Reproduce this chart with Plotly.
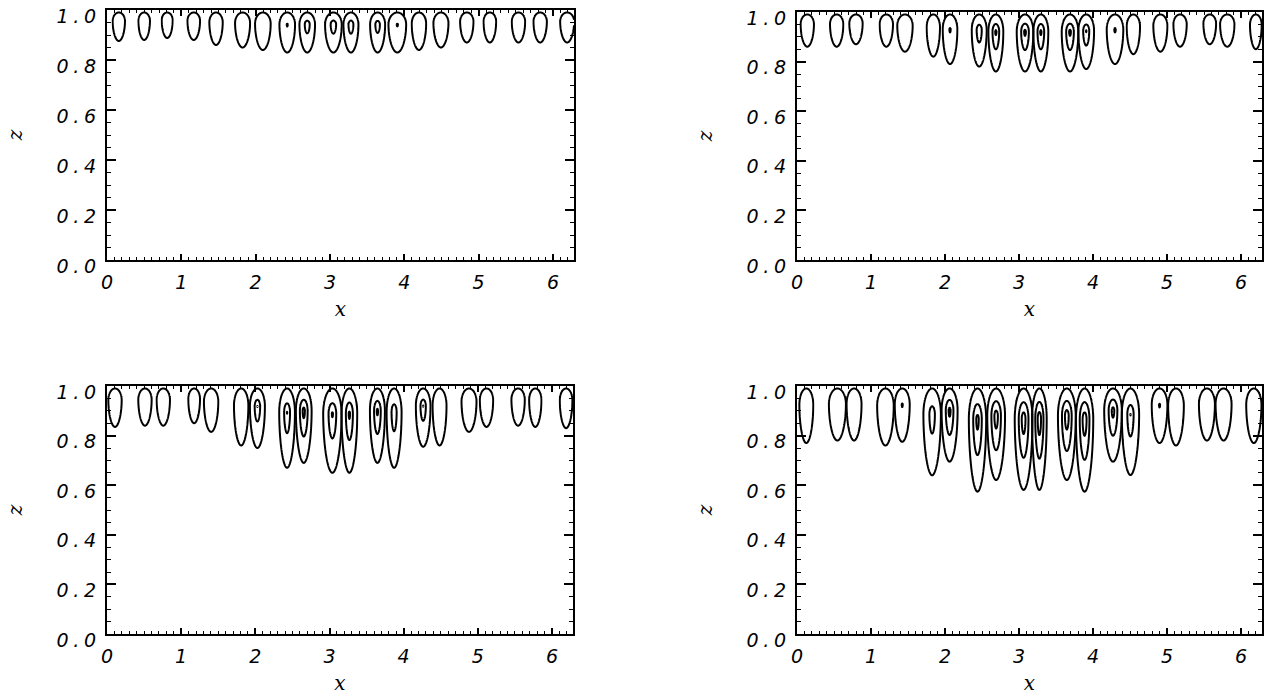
import numpy as np
import plotly.graph_objects as go

# ---------------- data ----------------
# every closed cell: centre x, half width of the outer contour (x units),
# lowest z reached by the outer contour, and peak value of the cell field
# (contours are drawn at levels 1, 2, 3)

# top-left panel
tl_xc = [0.159, 0.500, 0.810, 1.167, 1.467, 1.824, 2.097, 2.425, 2.694, 3.046,
         3.282, 3.641, 3.906, 4.197, 4.493, 4.841, 5.151, 5.536, 5.828, 6.191]
tl_hw = [0.083, 0.078, 0.074, 0.085, 0.090, 0.101, 0.105, 0.105, 0.105, 0.112,
         0.101, 0.101, 0.119, 0.097, 0.101, 0.090, 0.085, 0.090, 0.090, 0.094]
tl_bottom = [0.876, 0.880, 0.888, 0.880, 0.860, 0.850, 0.840, 0.830, 0.830, 0.830,
             0.830, 0.830, 0.830, 0.840, 0.850, 0.870, 0.870, 0.870, 0.870, 0.870]
tl_peak = [1.8, 1.8, 1.8, 1.8, 1.8, 1.8, 1.8, 2.25, 3.00, 3.05,
           3.05, 2.95, 2.25, 1.8, 1.8, 1.8, 1.8, 1.8, 1.8, 1.8]

# top-right panel
tr_xc = [0.139, 0.536, 0.797, 1.207, 1.459, 1.842, 2.068, 2.462, 2.687, 3.081,
         3.295, 3.689, 3.908, 4.297, 4.545, 4.910, 5.176, 5.577, 5.814, 6.200]
tr_hw = [0.090, 0.090, 0.090, 0.090, 0.104, 0.090, 0.099, 0.101, 0.101, 0.112,
         0.101, 0.112, 0.106, 0.112, 0.090, 0.095, 0.090, 0.086, 0.097, 0.079]
tr_bottom = [0.860, 0.860, 0.870, 0.860, 0.840, 0.820, 0.790, 0.780, 0.760, 0.760,
             0.760, 0.760, 0.770, 0.790, 0.830, 0.840, 0.860, 0.870, 0.860, 0.850]
tr_peak = [1.8, 1.8, 1.8, 1.8, 1.8, 1.8, 2.30, 3.10, 3.60, 3.70,
           3.60, 3.70, 3.30, 2.30, 1.8, 1.8, 1.8, 1.8, 1.8, 1.8]

# bottom-left panel
bl_xc = [0.108, 0.512, 0.759, 1.175, 1.404, 1.809, 2.028, 2.428, 2.653, 3.039,
         3.268, 3.646, 3.871, 4.263, 4.484, 4.881, 5.117, 5.543, 5.775, 6.190]
bl_hw = [0.090, 0.090, 0.090, 0.079, 0.097, 0.097, 0.101, 0.106, 0.106, 0.124,
         0.106, 0.101, 0.101, 0.099, 0.094, 0.101, 0.090, 0.090, 0.083, 0.085]
bl_bottom = [0.835, 0.840, 0.840, 0.850, 0.815, 0.760, 0.750, 0.670, 0.690, 0.650,
             0.650, 0.690, 0.670, 0.755, 0.760, 0.815, 0.835, 0.840, 0.835, 0.830]
bl_peak = [1.8, 1.8, 1.8, 1.8, 1.8, 1.8, 3.20, 3.25, 3.90, 3.45,
           3.60, 3.60, 3.10, 3.20, 1.8, 1.8, 1.8, 1.8, 1.8, 1.8]

# bottom-right panel
br_xc = [0.126, 0.546, 0.771, 1.195, 1.422, 1.826, 2.062, 2.439, 2.691, 3.062,
         3.275, 3.646, 3.886, 4.270, 4.506, 4.899, 5.121, 5.539, 5.764, 6.173]
br_hw = [0.094, 0.115, 0.101, 0.112, 0.101, 0.118, 0.108, 0.117, 0.120, 0.120,
         0.099, 0.120, 0.117, 0.119, 0.117, 0.106, 0.106, 0.108, 0.108, 0.103]
br_bottom = [0.770, 0.780, 0.780, 0.760, 0.775, 0.640, 0.695, 0.574, 0.621, 0.581,
             0.581, 0.621, 0.574, 0.695, 0.641, 0.770, 0.760, 0.780, 0.780, 0.770]
br_peak = [1.8, 1.8, 1.8, 1.8, 2.25, 3.00, 3.80, 3.90, 4.20, 4.30,
           4.40, 4.30, 4.40, 3.90, 3.20, 2.25, 1.8, 1.8, 1.8, 1.8]

x_tick_vals = [0, 1, 2, 3, 4, 5, 6]
x_tick_text = ["0", "1", "2", "3", "4", "5", "6"]
y_tick_vals = [0.0, 0.2, 0.4, 0.6, 0.8, 1.0]
y_tick_text = ["0\u2005.\u20050", "0\u2005.\u20052", "0\u2005.\u20054",
               "0\u2005.\u20056", "0\u2005.\u20058", "1\u2005.\u20050"]
x_title = "x"
y_title = "z"

# ---------------- construction ----------------
X_MAX = 2 * np.pi
Z_TOP = 0.99          # top of every outer contour
UPPER_FRAC = 0.30     # share of the cell height above its widest point
GAMMA = 0.6           # cusp exponent of the cell field
P_LOW = 1.9           # super-ellipse exponent of the lower half


def cell_field(xc, hw, bottom, peak):
    z0 = Z_TOP - UPPER_FRAC * (Z_TOP - bottom)
    up = Z_TOP - z0
    down = z0 - bottom
    x = xc + hw * np.linspace(-1.2, 1.2, 81)
    x = np.unique(np.clip(x, 0, X_MAX))
    z = np.unique(np.clip(np.arange(bottom - 0.03, 1.0026, 0.0025), 0, 1.0))
    XX, ZZ = np.meshgrid(x, z)
    X = np.abs(XX - xc) / hw
    T = ZZ - z0
    Tn = np.where(T >= 0, T / up, -T / down)
    p = np.where(T >= 0, 2.0, P_LOW)
    R = (X ** p + Tn ** p) ** (1 / p)
    f = peak - (peak - 1) * R ** GAMMA
    return x, z, np.round(f, 4)


panels = [
    (tl_xc, tl_hw, tl_bottom, tl_peak, "x", "y"),
    (tr_xc, tr_hw, tr_bottom, tr_peak, "x2", "y2"),
    (bl_xc, bl_hw, bl_bottom, bl_peak, "x3", "y3"),
    (br_xc, br_hw, br_bottom, br_peak, "x4", "y4"),
]

fig = go.Figure()
for xc_l, hw_l, bot_l, pk_l, xa, ya in panels:
    for xc, hw, bot, pk in zip(xc_l, hw_l, bot_l, pk_l):
        x, z, f = cell_field(xc, hw, bot, pk)
        fig.add_trace(go.Contour(
            x=x, y=z, z=f, xaxis=xa, yaxis=ya,
            contours=dict(coloring="none", start=1, end=3, size=1),
            line=dict(color="black", width=2, smoothing=1.0),
            showscale=False, hoverinfo="skip",
        ))

W, H = 1264, 696
tick_font = dict(family="DejaVu Sans", size=19, style="italic", color="black")
title_font = dict(family="DejaVu Serif", size=20, style="italic", color="black")


def xaxis(px0, px1, anchor):
    return dict(
        domain=[px0 / W, px1 / W], anchor=anchor, range=[0, X_MAX],
        automargin=False, ticklabeloverflow="allow",
        tickmode="array", tickvals=x_tick_vals, ticktext=x_tick_text,
        ticks="inside", ticklen=6, tickwidth=1.5, tickcolor="black",
        minor=dict(tickmode="linear", tick0=0, dtick=0.1, ticks="inside",
                   ticklen=3, tickwidth=1, tickcolor="black"),
        showline=True, linewidth=2, linecolor="black", mirror="allticks",
        showgrid=False, zeroline=False, tickfont=tick_font, ticklabelstandoff=4,
        title=dict(text=x_title, font=title_font, standoff=10),
    )


def yaxis(py0, py1, anchor):
    return dict(
        domain=[1 - py1 / H, 1 - py0 / H], anchor=anchor, range=[0, 1],
        automargin=False, ticklabeloverflow="allow", ticklabelshift=6,
        tickmode="array", tickvals=y_tick_vals, ticktext=y_tick_text,
        ticks="inside", ticklen=9, tickwidth=1.5, tickcolor="black",
        minor=dict(tickmode="linear", tick0=0, dtick=0.05, ticks="inside",
                   ticklen=4, tickwidth=1, tickcolor="black"),
        showline=True, linewidth=2, linecolor="black", mirror="allticks",
        showgrid=False, zeroline=False, tickfont=tick_font, ticklabelstandoff=5,
        title=dict(text=y_title, font=title_font, standoff=28),
    )


fig.update_layout(
    width=W, height=H, margin=dict(l=0, r=0, t=0, b=0, autoexpand=False),
    paper_bgcolor="white", plot_bgcolor="white", showlegend=False,
    xaxis=xaxis(107, 574, "y"), yaxis=yaxis(10, 260, "x"),
    xaxis2=xaxis(797, 1262, "y2"), yaxis2=yaxis(12, 260, "x2"),
    xaxis3=xaxis(107, 573, "y3"), yaxis3=yaxis(386, 634, "x3"),
    xaxis4=xaxis(797, 1262, "y4"), yaxis4=yaxis(386, 634, "x4"),
)

fig.write_html("out.html", config={"displayModeBar": False},
               post_script="document.body.style.margin='0px';"
                           "document.body.style.overflow='hidden';")
